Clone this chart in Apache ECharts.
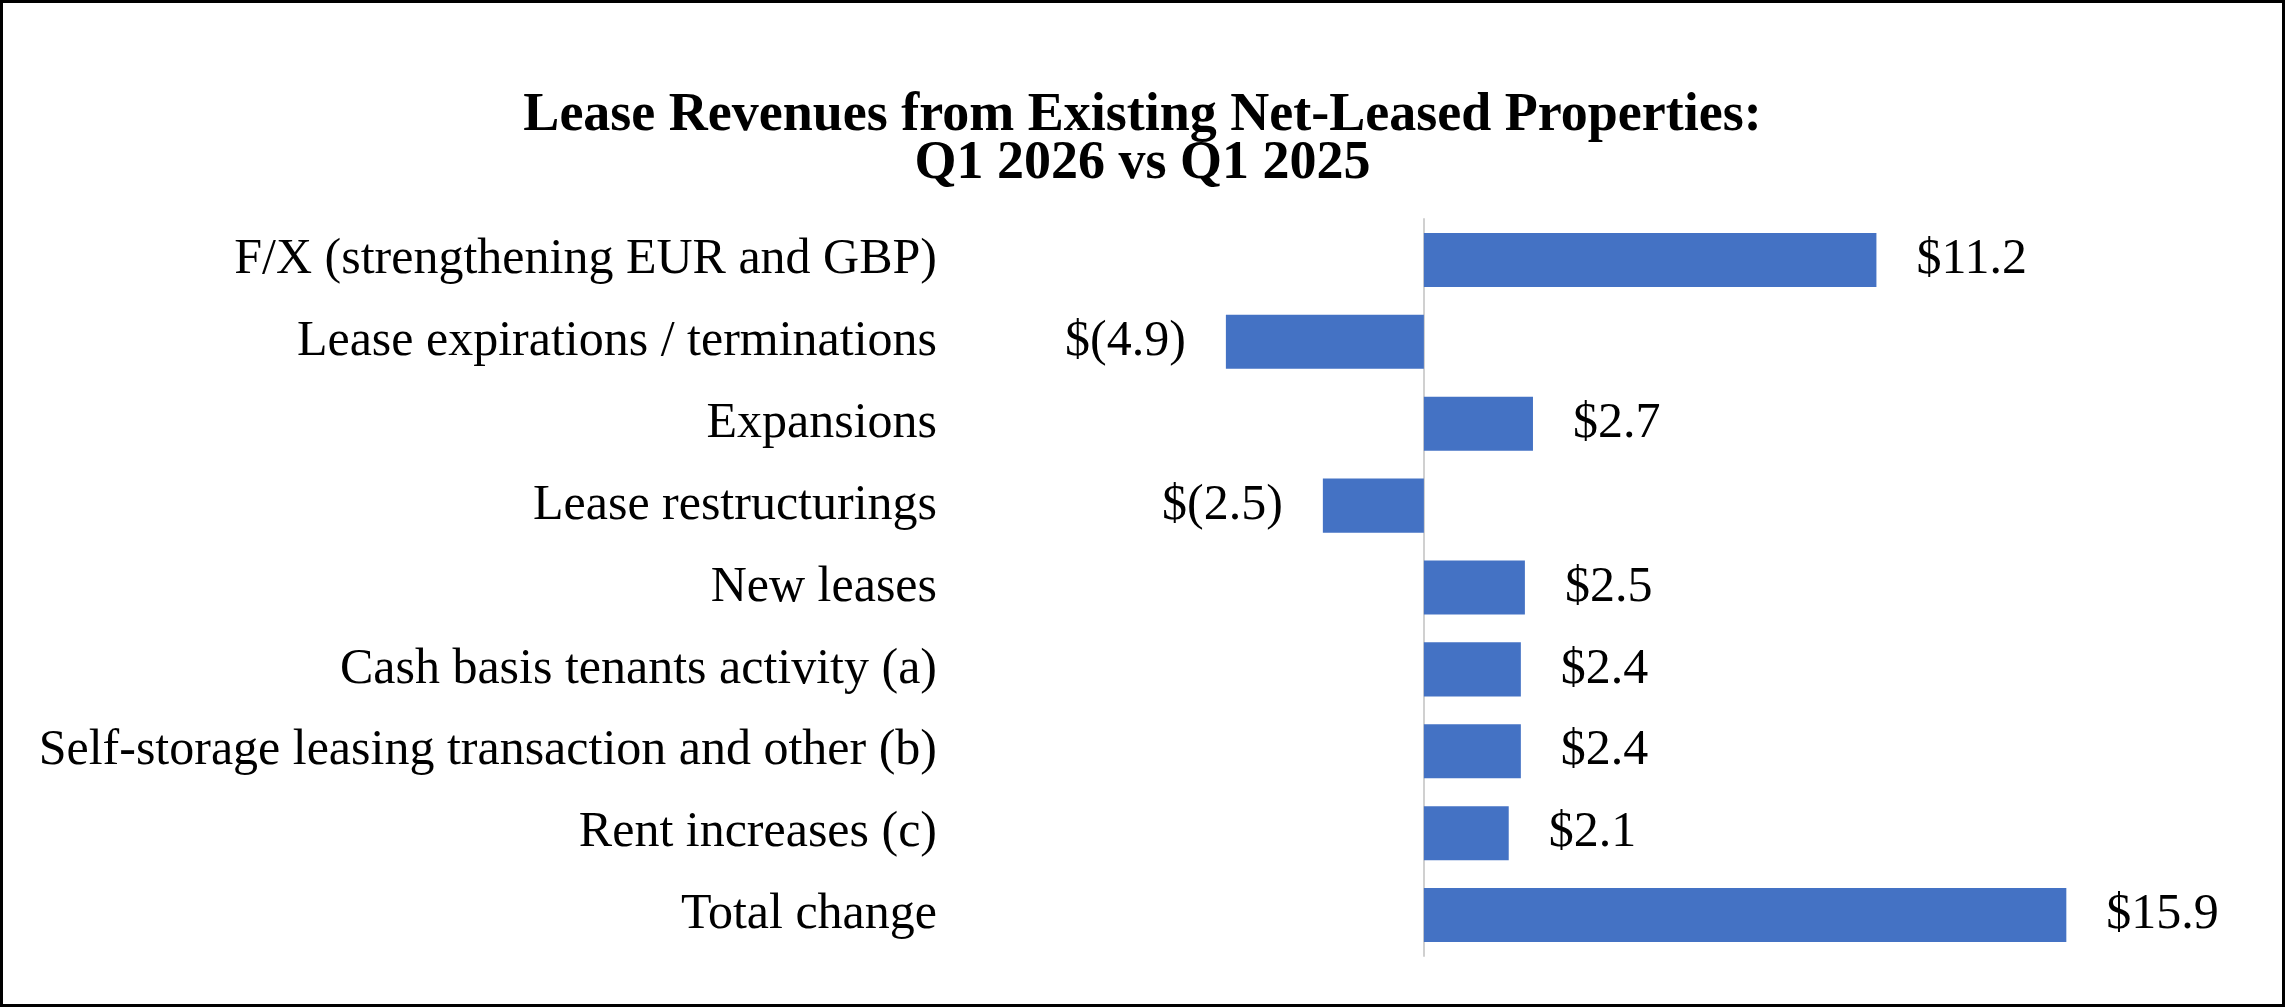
<!DOCTYPE html>
<html><head><meta charset="utf-8">
<script src="https://cdn.jsdelivr.net/npm/echarts@6/dist/echarts.min.js"></script>
<style>html,body{margin:0;padding:0;background:#fff}#c{width:2285px;height:1007px;box-sizing:border-box;border:3px solid #000}</style>
</head><body><div id="c"></div>
<script>
const categories = ["F/X (strengthening EUR and GBP)","Lease expirations / terminations","Expansions","Lease restructurings","New leases","Cash basis tenants activity (a)","Self-storage leasing transaction and other (b)","Rent increases (c)","Total change"];
const values = [11.2,-4.9,2.7,-2.5,2.5,2.4,2.4,2.1,15.9];
const fmt = v => v < 0 ? "$(" + Math.abs(v).toFixed(1) + ")" : "$" + v.toFixed(1);
const chart = echarts.init(document.getElementById('c'));
const F = "Liberation Serif";
chart.setOption({
  animation:false,
  title:{text:"Lease Revenues from Existing Net-Leased Properties:\nQ1 2026 vs Q1 2025",left:'center',top:84,
    textStyle:{fontFamily:F,fontSize:54,fontWeight:'bold',color:'#000',lineHeight:48}},
  grid:{left:936,right:50,top:216,bottom:48},
  xAxis:{type:'value',min:-12,max:20,show:false},
  yAxis:{type:'category',data:categories,inverse:true,
    axisLine:{onZero:true,lineStyle:{color:'#d0d0d0',width:2}},axisTick:{show:false},
    axisLabel:{fontFamily:F,fontSize:50,color:'#000',margin:2,align:'right'}},
  series:[{type:'bar',barWidth:'66%',
    data:values.map(v=>({value:v,itemStyle:{color:'#4472c4'},label:{position:v<0?'left':'right'}})),
    label:{show:true,distance:40,fontFamily:F,fontSize:50,color:'#000',formatter:p=>fmt(p.value)}}]
});
</script></body></html>
